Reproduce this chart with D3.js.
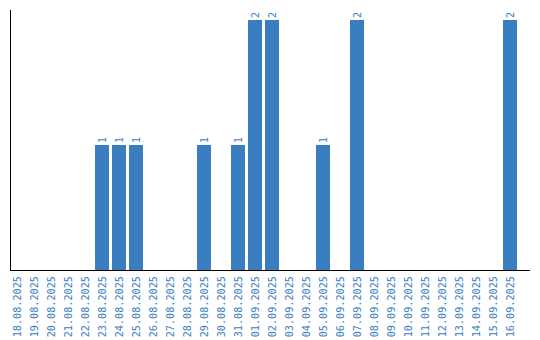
<!DOCTYPE html>
<html><head><meta charset="utf-8">
<script src="https://cdn.jsdelivr.net/npm/d3@7"></script>
<style>body{margin:0;background:#fff}svg{display:block}</style>
</head><body>
<svg id="c" width="540" height="340"></svg>
<script>
const categories = ["18.08.2025","19.08.2025","20.08.2025","21.08.2025","22.08.2025","23.08.2025","24.08.2025","25.08.2025","26.08.2025","27.08.2025","28.08.2025","29.08.2025","30.08.2025","31.08.2025","01.09.2025","02.09.2025","03.09.2025","04.09.2025","05.09.2025","06.09.2025","07.09.2025","08.09.2025","09.09.2025","10.09.2025","11.09.2025","12.09.2025","13.09.2025","14.09.2025","15.09.2025","16.09.2025"];
const values = [0,0,0,0,0,1,1,1,0,0,0,1,0,1,2,2,0,0,1,0,2,0,0,0,0,0,0,0,0,2];

const color = "#3a7ec2";
const svg = d3.select("#c");
const x = d3.scaleBand().domain(categories).range([8.5, 518.5]).paddingInner(3/17).paddingOuter(1.5/17);
const y = d3.scaleLinear().domain([0, 2]).range([270, 20]);

svg.selectAll("rect.bar").data(values).join("rect")
  .attr("class","bar")
  .attr("x",(d,i)=>x(categories[i]))
  .attr("y",d=>y(d))
  .attr("width",x.bandwidth())
  .attr("height",d=>y(0)-y(d))
  .attr("fill",color);

svg.selectAll("text.val").data(values.map((v,i)=>({v,i})).filter(d=>d.v>0)).join("text")
  .attr("class","val")
  .attr("transform",d=>`translate(${x(categories[d.i])+x.bandwidth()/2},${y(d.v)-2}) rotate(-90)`)
  .attr("dy","0.35em")
  .attr("text-anchor","start")
  .attr("font-family","DejaVu Sans Mono, monospace")
  .attr("font-size","10px")
  .attr("fill",color)
  .text(d=>d.v);

// axes
const xAxis = svg.append("g").attr("transform","translate(0,270)")
  .call(d3.axisBottom(x).tickSize(0).tickPadding(0));
xAxis.select(".domain").remove();
xAxis.selectAll("text")
  .attr("font-family","DejaVu Sans Mono, monospace")
  .attr("font-size","10.2px")
  .attr("fill",color)
  .attr("text-anchor","end")
  .attr("transform","translate(0,6) rotate(-90)")
  .attr("x",0).attr("y",0).attr("dy","0.35em");

svg.append("line").attr("x1",10.5).attr("x2",10.5).attr("y1",10).attr("y2",270.5)
  .attr("stroke","#000").attr("stroke-width",1);
svg.append("line").attr("x1",10).attr("x2",530).attr("y1",270.5).attr("y2",270.5)
  .attr("stroke","#000").attr("stroke-width",1);
</script>
</body></html>
